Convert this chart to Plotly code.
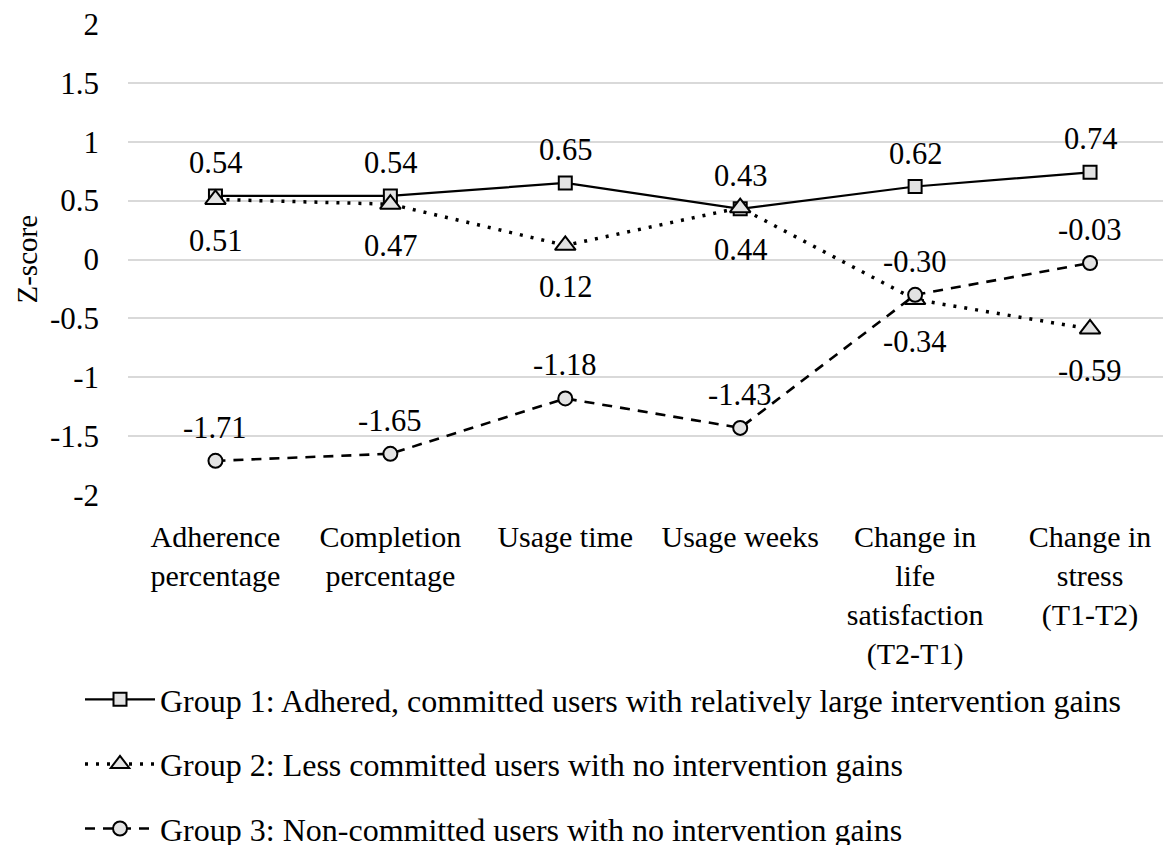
import plotly.graph_objects as go

categories = ["Adherence<br>percentage", "Completion<br>percentage", "Usage time",
              "Usage weeks", "Change in<br>life<br>satisfaction<br>(T2-T1)",
              "Change in<br>stress<br>(T1-T2)"]
group1 = [0.54, 0.54, 0.65, 0.43, 0.62, 0.74]
group2 = [0.51, 0.47, 0.12, 0.44, -0.34, -0.59]
group3 = [-1.71, -1.65, -1.18, -1.43, -0.30, -0.03]
names = ["Group 1: Adhered, committed users with relatively large intervention gains",
         "Group 2: Less committed users with no intervention gains",
         "Group 3: Non-committed users with no intervention gains"]
y_ticks = [2, 1.5, 1, 0.5, 0, -0.5, -1, -1.5, -2]
y_tick_text = ["2", "1.5", "1", "0.5", "0", "-0.5", "-1", "-1.5", "-2"]

FONT = "Liberation Serif"
FILL = "#e3e3e3"
W, H = 1163, 837

fig = go.Figure()
series = [
    (group1, names[0], "square", 13, "solid", 2.2, 33),
    (group2, names[1], "triangle-up", 18, "3px,8px", 3.5, -42),
    (group3, names[2], "circle", 14, "10px,8px", 2.6, 33),
]
for i, (vals, name, sym, ms, dash, lw, shift) in enumerate(series):
    fig.add_trace(go.Scatter(
        x=categories, y=vals, name=name, mode="lines+markers",
        legendgroup=f"g{i}",
        line=dict(color="black", width=lw, dash=dash),
        marker=dict(symbol=sym, size=ms, color=FILL, line=dict(color="black", width=2)),
        hoverinfo="skip",
    ))
    for c, v in zip(categories, vals):
        fig.add_annotation(x=c, y=v, text=f"{v:.2f}", showarrow=False,
                           yshift=shift, font=dict(family=FONT, size=30.5, color="black"))

fig.add_annotation(text="Z-score", textangle=-90, showarrow=False,
                   xref="paper", yref="paper", x=0, y=0.5, xanchor="center", yanchor="middle",
                   xshift=-102, font=dict(family=FONT, size=29, color="black"))

fig.update_layout(
    width=W, height=H,
    margin=dict(l=119.5, r=0, t=16, b=350, autoexpand=False),
    paper_bgcolor="white", plot_bgcolor="white",
    font=dict(family=FONT, size=30, color="black"),
    showlegend=True,
    legend=dict(
        xref="container", yref="container", x=72 / W, y=1 - 664 / H,
        xanchor="left", yanchor="top",
        font=dict(family=FONT, size=32, color="black"),
        itemwidth=70, tracegroupgap=20, bgcolor="rgba(0,0,0,0)",
    ),
    xaxis=dict(
        type="category", range=[-0.5, (1171 - 215) / 175],
        showgrid=False, zeroline=False, showline=False, ticks="",
        tickfont=dict(family=FONT, size=30, color="black"),
        ticklabelstandoff=21, tickangle=0, automargin=False,
    ),
    yaxis=dict(
        range=[-2, 2], tickvals=y_ticks, ticktext=y_tick_text,
        showgrid=True, gridcolor="#d9d9d9", gridwidth=1.5,
        zeroline=False, showline=False, ticks="",
        tickfont=dict(family=FONT, size=31, color="black"),
        ticklabelstandoff=28, automargin=False, ticklabeloverflow="allow",
    ),
)

fig.write_html("out.html")
